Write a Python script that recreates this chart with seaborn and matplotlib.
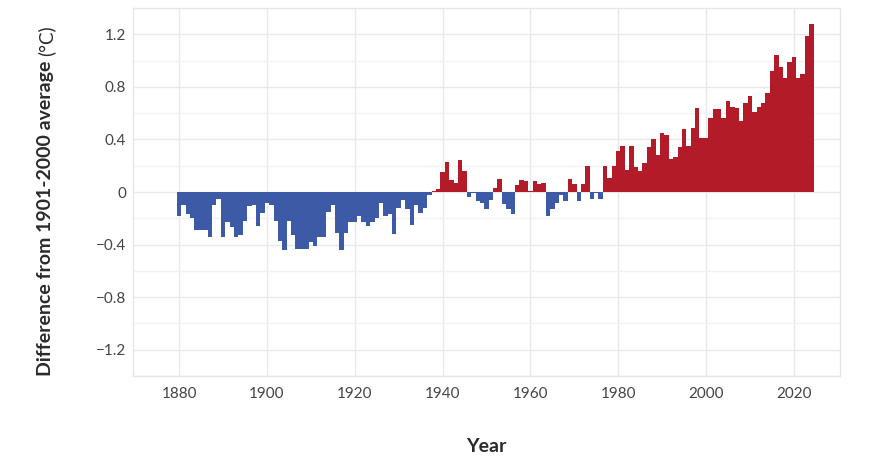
import matplotlib
matplotlib.use("Agg")
import matplotlib.pyplot as plt
from matplotlib.ticker import MultipleLocator, FuncFormatter
import numpy as np
import pandas as pd
import seaborn as sns

# Global temperature anomaly, difference from 1901-2000 average (°C)
years = list(range(1880, 2025))
anomaly = [
    -0.18, -0.10, -0.17, -0.20, -0.29, -0.29, -0.29, -0.34, -0.10, -0.05,  # 1880s
    -0.34, -0.23, -0.27, -0.34, -0.33, -0.22, -0.11, -0.10, -0.26, -0.16,  # 1890s
    -0.08, -0.10, -0.22, -0.37, -0.44, -0.22, -0.33, -0.43, -0.43, -0.43,  # 1900s
    -0.38, -0.41, -0.34, -0.34, -0.15, -0.10, -0.31, -0.44, -0.31, -0.23,  # 1910s
    -0.23, -0.18, -0.23, -0.26, -0.23, -0.20, -0.08, -0.18, -0.17, -0.32,  # 1920s
    -0.12, -0.06, -0.13, -0.25, -0.10, -0.16, -0.12, -0.02, 0.01, 0.02,    # 1930s
    0.15, 0.23, 0.09, 0.07, 0.24, 0.16, -0.04, -0.01, -0.07, -0.08,        # 1940s
    -0.13, -0.06, 0.03, 0.10, -0.09, -0.13, -0.17, 0.05, 0.09, 0.08,       # 1950s
    0.01, 0.08, 0.06, 0.07, -0.18, -0.13, -0.08, -0.02, -0.07, 0.10,       # 1960s
    0.06, -0.07, 0.06, 0.20, -0.05, -0.01, -0.05, 0.20, 0.11, 0.20,        # 1970s
    0.31, 0.35, 0.17, 0.35, 0.19, 0.16, 0.22, 0.34, 0.40, 0.28,            # 1980s
    0.45, 0.43, 0.25, 0.27, 0.34, 0.48, 0.35, 0.49, 0.64, 0.41,            # 1990s
    0.41, 0.56, 0.63, 0.63, 0.56, 0.69, 0.65, 0.64, 0.54, 0.68,            # 2000s
    0.73, 0.61, 0.65, 0.68, 0.75, 0.92, 1.04, 0.95, 0.87, 0.99,            # 2010s
    1.03, 0.87, 0.90, 1.19, 1.28,                                          # 2020s
]
x_ticks = [1880, 1900, 1920, 1940, 1960, 1980, 2000, 2020]
y_ticks = [-1.2, -0.8, -0.4, 0, 0.4, 0.8, 1.2]

BLUE = "#3d5aa7"
RED = "#b41b29"

df = pd.DataFrame({"year": years, "anomaly": anomaly})
df["sign"] = np.where(df["anomaly"] >= 0, "pos", "neg")

sns.set_theme(style="white")
plt.rcParams["font.family"] = ["Lato", "DejaVu Sans"]
plt.rcParams["axes.unicode_minus"] = True

W, H = 880, 467
fig = plt.figure(figsize=(W / 100, H / 100), dpi=100)
ax = fig.add_axes([133 / W, 1 - 376 / H, (840 - 133) / W, (376 - 8) / H])

sns.barplot(data=df, x="year", y="anomaly", hue="sign",
            palette={"neg": BLUE, "pos": RED}, native_scale=True,
            width=1.0, dodge=False, saturation=1, legend=False, ax=ax)
# no outlines, no antialiasing -> no seams between neighbouring bars
for p in ax.patches:
    p.set_linewidth(0)
    p.set_antialiased(False)
    p.set_zorder(3)

ax.set_xlim(1869.5, 2030.5)
ax.set_ylim(-1.4, 1.4)
ax.set_xticks(x_ticks)
ax.set_yticks(y_ticks)
ax.yaxis.set_minor_locator(MultipleLocator(0.2))
ax.yaxis.set_major_formatter(FuncFormatter(
    lambda v, pos: "0" if abs(v) < 1e-9 else f"{v:.1f}".replace("-", "\u2212")))
ax.xaxis.set_major_formatter(FuncFormatter(lambda v, pos: f"{int(round(v))}"))

ax.set_axisbelow(True)
ax.grid(which="major", color="#e9e9e9", linewidth=1)
ax.grid(which="minor", axis="y", color="#f2f2f2", linewidth=1)
ax.tick_params(which="both", length=0, labelsize=11, colors="#444444")
ax.tick_params(axis="y", pad=5)
ax.tick_params(axis="x", pad=8)
for s in ax.spines.values():
    s.set_color("#e6e6e6")
    s.set_linewidth(1)
ax.set_xlabel("")
ax.set_ylabel("")

# axis titles
fig.text(486.5 / W, 1 - 447 / H, "Year", ha="center", va="center",
         fontsize=14, fontweight="bold", color="#2a2a2a")
t1 = fig.text(45 / W, 1 - 376 / H, "Difference from 1901-2000 average",
              rotation=90, ha="center", va="bottom",
              fontsize=14, fontweight="bold", color="#2a2a2a")
fig.canvas.draw()
bb = t1.get_window_extent(fig.canvas.get_renderer())
fig.text(46 / W, (bb.y1 + 5) / H, "(°C)", rotation=90, ha="center", va="bottom",
         fontsize=13.5, color="#2a2a2a")

fig.savefig("out.png", dpi=100, facecolor="white")
